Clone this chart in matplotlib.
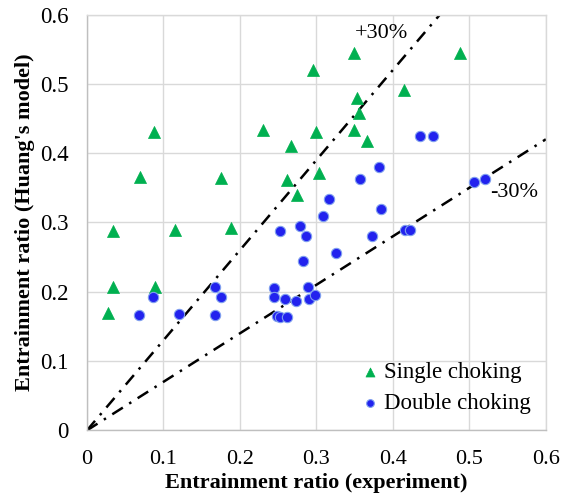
import matplotlib
matplotlib.use('Agg')
import matplotlib.pyplot as plt

plt.rcParams['font.family'] = ['Liberation Serif', 'DejaVu Serif']

# single choking (triangles)
single_x = [0.028, 0.034, 0.034, 0.069, 0.088, 0.089, 0.115, 0.175, 0.188, 0.230,
            0.262, 0.267, 0.274, 0.295, 0.299, 0.303, 0.349, 0.349, 0.353, 0.356,
            0.366, 0.414, 0.488]
single_y = [0.169, 0.288, 0.207, 0.366, 0.431, 0.207, 0.289, 0.364, 0.292, 0.434,
            0.361, 0.410, 0.340, 0.520, 0.430, 0.371, 0.544, 0.433, 0.480, 0.458,
            0.418, 0.491, 0.545]

# double choking (circles)
double_x = [0.0675, 0.087, 0.120, 0.167, 0.168, 0.175, 0.244, 0.245, 0.248, 0.252,
            0.252, 0.259, 0.261, 0.2736, 0.279, 0.283, 0.287, 0.2885, 0.2906, 0.2985,
            0.309, 0.317, 0.325, 0.357, 0.373, 0.382, 0.385, 0.4157, 0.4218, 0.435,
            0.452, 0.506, 0.521]
double_y = [0.166, 0.192, 0.168, 0.2075, 0.167, 0.193, 0.206, 0.192, 0.165, 0.164,
            0.288, 0.189, 0.163, 0.187, 0.295, 0.244, 0.280, 0.2075, 0.189, 0.1955,
            0.3095, 0.334, 0.2566, 0.363, 0.281, 0.380, 0.320, 0.289, 0.289, 0.425,
            0.425, 0.359, 0.362]

ticks = [0, 0.1, 0.2, 0.3, 0.4, 0.5, 0.6]
tick_labels = ['0', '0.1', '0.2', '0.3', '0.4', '0.5', '0.6']

fig = plt.figure(figsize=(5.61, 5.01), dpi=100)
ax = fig.add_axes([0.155, 0.141, 0.818, 0.830])

ax.grid(True, color='#d9d9d9', linewidth=1.0)
ax.set_axisbelow(True)

# +/-30% error bands
dashdot = (0, (5, 3, 1, 3))
ax.plot([0, 0.6 / 1.3], [0, 0.6], color='black', linewidth=1.8,
        linestyle=dashdot, zorder=2)
ax.plot([0, 0.6], [0, 0.6 * 0.7], color='black', linewidth=1.8,
        linestyle=dashdot, zorder=2)

ax.scatter(single_x, single_y, marker='^', s=75, color='#00b050',
           edgecolors='#00b050', linewidths=0.5, zorder=3, label='Single choking')
ax.scatter(double_x, double_y, marker='o', s=55, color='#2222ee',
           edgecolors='#7f9fef', linewidths=0.8, zorder=3, label='Double choking')

ax.text(0.385, 0.573, '+30%', fontsize=16, ha='center', va='center')
ax.text(0.559, 0.343, '-30%', fontsize=16, ha='center', va='center')

ax.set_xlim(0, 0.6)
ax.set_ylim(0, 0.6)
ax.set_xticks(ticks)
ax.set_xticklabels(tick_labels)
ax.set_yticks(ticks)
ax.set_yticklabels(tick_labels)
ax.tick_params(axis='x', length=0, labelsize=16, pad=14)
ax.tick_params(axis='y', length=0, labelsize=16.5, pad=13)

for s in ax.spines.values():
    s.set_color('#d9d9d9')
    s.set_linewidth(1.0)
ax.spines['left'].set_color('#bfbfbf')
ax.spines['bottom'].set_color('#bfbfbf')

ax.set_xlabel('Entrainment ratio (experiment)', fontsize=16, fontweight='bold', labelpad=3)
ax.set_ylabel("Entrainment ratio (Huang's model)", fontsize=16, fontweight='bold', labelpad=4)

ax.legend(loc='center left', frameon=False, fontsize=16.5, handletextpad=0.2,
          handlelength=0.8, borderpad=0, labelspacing=0.4, markerscale=0.75,
          bbox_to_anchor=(0.343, 0.061), bbox_transform=ax.transData)

fig.savefig('out.png', dpi=100)
